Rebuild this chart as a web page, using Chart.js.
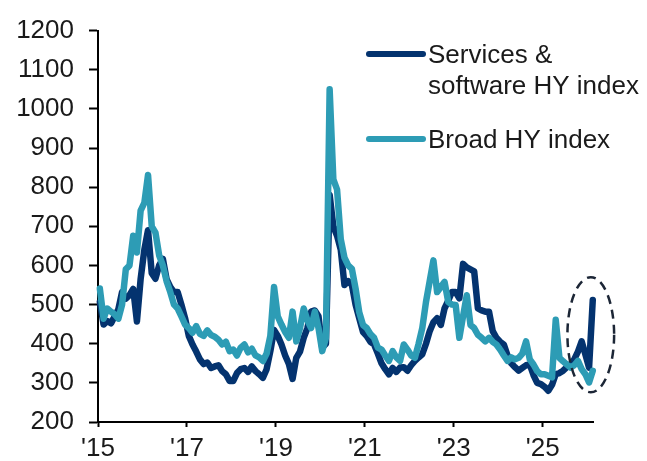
<!DOCTYPE html>
<html lang="en">
<head>
    <meta charset="UTF-8">
    <title>HY spreads: services &amp; software vs broad index</title>
    <script src="https://cdn.jsdelivr.net/npm/chart.js@4.4.1/dist/chart.umd.min.js"></script>
    <style>
        body {
            margin: 0;
            background: #fff;
        }
        .chart-box {
            position: relative;
            width: 647px;
            height: 461px;
        }
    </style>
</head>
<body>
    <div class="chart-box">
        <canvas id="spreadChart"></canvas>
    </div>

    <script>
        // monthly spread levels (bp), Jan 2015 .. Feb 2026
        const startYear = 2015;
        const seriesNames = [['Services &', 'software HY index'], ['Broad HY index']];
        const xTickYears = [2015, 2017, 2019, 2021, 2023, 2025];

        const servicesHY = [
            507, 449, 458, 452, 470, 488, 532, 515, 524, 540, 457, 565,   // 2015
            640, 690, 580, 566, 600, 617, 565, 545, 532, 532, 500, 465,   // 2016
            420, 398, 380, 360, 348, 352, 338, 342, 345, 330, 322, 305,   // 2017
            305, 325, 335, 338, 328, 342, 330, 322, 313, 335, 381, 435,   // 2018
            420, 398, 370, 348, 310, 364, 380, 415, 440, 482, 485, 470,   // 2019
            390, 400, 780, 700, 676, 640, 550, 560, 550, 500, 465, 430,   // 2020
            420, 405, 398, 375, 350, 335, 322, 338, 328, 339, 340, 331,   // 2021
            345, 356, 365, 373, 400, 432, 455, 465, 448, 490, 510, 532,   // 2022
            532, 516, 604, 595, 590, 585, 490, 485, 482, 482, 432, 415,   // 2023
            405, 398, 370, 350, 340, 331, 338, 345, 347, 320, 300, 297,   // 2024
            290, 280, 295, 322, 325, 331, 340, 347, 360, 380, 406, 373,   // 2025
            339, 512                                                      // 2026
        ];

        const broadHY = [
            541, 464, 490, 482, 475, 464, 500, 590, 600, 676, 633, 740,   // 2015
            760, 831, 700, 684, 626, 600, 560, 532, 500, 490, 470, 449,   // 2016
            440, 428, 445, 425, 420, 434, 422, 418, 410, 398, 405, 381,   // 2017
            385, 370, 390, 398, 378, 387, 370, 365, 356, 375, 420, 545,   // 2018
            470, 449, 430, 415, 482, 406, 440, 490, 460, 440, 482, 440,   // 2019
            381, 415, 1050, 820, 794, 667, 620, 600, 591, 541, 480, 448,  // 2020
            440, 425, 415, 390, 385, 370, 356, 381, 365, 356, 398, 385,   // 2021
            370, 364, 400, 440, 507, 560, 613, 532, 545, 558, 507, 500,   // 2022
            499, 415, 470, 524, 448, 440, 423, 415, 406, 415, 405, 398,   // 2023
            385, 370, 356, 365, 360, 364, 375, 406, 360, 347, 330, 322,   // 2024
            322, 318, 314, 461, 364, 355, 347, 339, 345, 356, 335, 322,   // 2025
            301, 331                                                      // 2026
        ];

        // the recent move that gets circled
        const highlight = { x: 2026.08, y: 423, rx: 0.525, ry: 147 };

        const navy = '#04336f';
        const teal = '#2d9cb5';
        const fontFamily = '"Liberation Sans", Arial, sans-serif';

        // mid-month positions on a decimal-year axis
        const toPoints = values => values.map((v, i) => ({ x: startYear + (i + 0.5) / 12, y: v }));

        const sideLegend = {
            id: 'sideLegend',
            afterDraw(chart) {
                const ctx = chart.ctx;
                const items = [
                    { color: navy, lineY: 54, textY: [63, 94], lines: seriesNames[0] },
                    { color: teal, lineY: 139, textY: [148], lines: seriesNames[1] }
                ];
                ctx.save();
                ctx.lineCap = 'round';
                ctx.lineWidth = 6;
                ctx.font = '26px ' + fontFamily;
                ctx.fillStyle = '#1a1a1a';
                ctx.textBaseline = 'alphabetic';
                items.forEach(item => {
                    ctx.strokeStyle = item.color;
                    ctx.beginPath();
                    ctx.moveTo(369, item.lineY);
                    ctx.lineTo(423, item.lineY);
                    ctx.stroke();
                    item.lines.forEach((t, k) => ctx.fillText(t, 428, item.textY[k]));
                });
                ctx.restore();
            }
        };

        const circleMarker = {
            id: 'circleMarker',
            afterDatasetsDraw(chart) {
                const { ctx, scales } = chart;
                const cx = scales.x.getPixelForValue(highlight.x);
                const cy = scales.y.getPixelForValue(highlight.y);
                const rx = Math.abs(scales.x.getPixelForValue(highlight.x + highlight.rx) - cx);
                const ry = Math.abs(scales.y.getPixelForValue(highlight.y + highlight.ry) - cy);
                ctx.save();
                ctx.strokeStyle = '#1c2636';
                ctx.lineWidth = 2.5;
                ctx.setLineDash([9, 6]);
                ctx.beginPath();
                ctx.ellipse(cx, cy, rx, ry, 0, 0, Math.PI * 2);
                ctx.stroke();
                ctx.restore();
            }
        };

        const ctx = document.getElementById('spreadChart').getContext('2d');
        new Chart(ctx, {
            type: 'line',
            data: {
                datasets: [
                    {
                        label: seriesNames[0].join(' '),
                        data: toPoints(servicesHY),
                        borderColor: navy,
                        borderWidth: 6.5,
                        pointRadius: 0,
                        tension: 0,
                        order: 1,
                        clip: false
                    },
                    {
                        label: seriesNames[1].join(' '),
                        data: toPoints(broadHY),
                        borderColor: teal,
                        borderWidth: 6.5,
                        pointRadius: 0,
                        tension: 0,
                        order: 0,
                        clip: false
                    }
                ]
            },
            options: {
                responsive: true,
                maintainAspectRatio: false,
                animation: false,
                elements: {
                    line: { borderJoinStyle: 'round', borderCapStyle: 'round' }
                },
                layout: { padding: { left: 0, right: 54, top: 26, bottom: 0 } },
                plugins: {
                    legend: { display: false },
                    tooltip: { enabled: false }
                },
                scales: {
                    x: {
                        type: 'linear',
                        min: 2015,
                        max: 2026.13,
                        afterBuildTicks: scale => {
                            scale.ticks = xTickYears.map(v => ({ value: v }));
                        },
                        afterFit: scale => { scale.height = 39; },
                        grid: {
                            drawOnChartArea: false,
                            drawTicks: true,
                            tickLength: 5,
                            tickWidth: 2,
                            tickColor: '#000'
                        },
                        border: { display: true, color: '#000', width: 2 },
                        ticks: {
                            autoSkip: false,
                            maxRotation: 0,
                            padding: 6,
                            color: '#1a1a1a',
                            font: { family: fontFamily, size: 26 },
                            callback: v => "'" + String(v).slice(2)
                        }
                    },
                    y: {
                        min: 200,
                        max: 1200,
                        afterFit: scale => { scale.width = 98; },
                        grid: {
                            drawOnChartArea: false,
                            drawTicks: true,
                            tickLength: 9,
                            tickWidth: 2,
                            tickColor: '#000'
                        },
                        border: { display: true, color: '#000', width: 2 },
                        ticks: {
                            stepSize: 100,
                            padding: 15,
                            color: '#1a1a1a',
                            font: { family: fontFamily, size: 26 },
                            callback: v => String(v)
                        }
                    }
                }
            },
            plugins: [circleMarker, sideLegend]
        });
    </script>
</body>
</html>
